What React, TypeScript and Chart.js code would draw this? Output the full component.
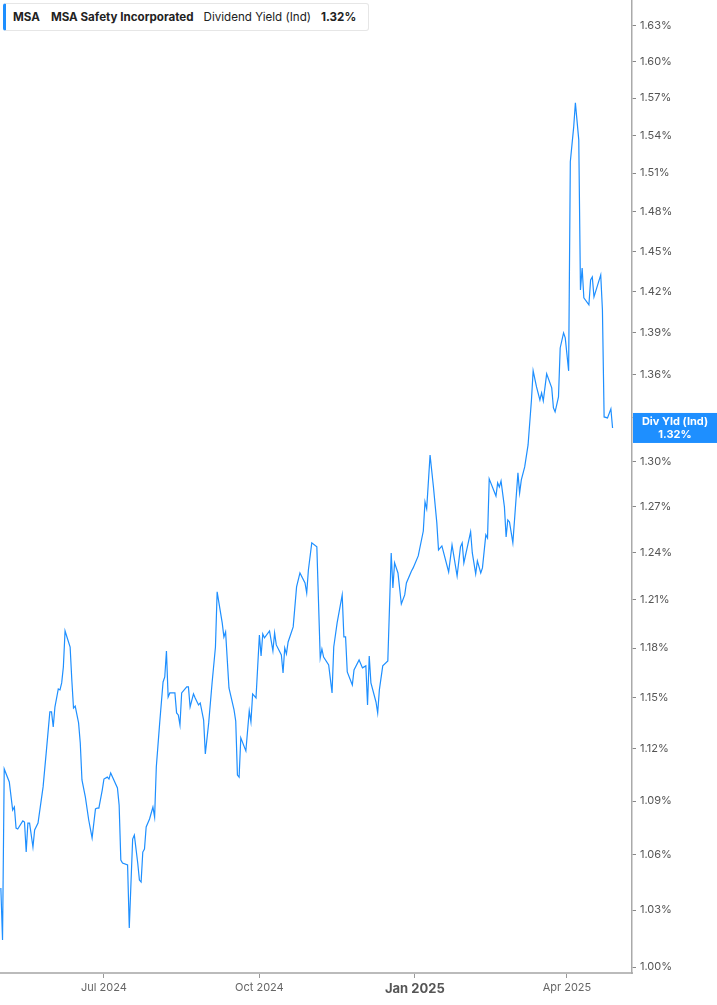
import { useEffect, useRef } from 'react'
import { Chart, registerables } from 'chart.js'

Chart.register(...registerables)

const dates = [
  '2024-05-01', '2024-05-02', '2024-05-03', '2024-05-06', '2024-05-08', '2024-05-09', '2024-05-10', '2024-05-11',
  '2024-05-14', '2024-05-15', '2024-05-16', '2024-05-17', '2024-05-18', '2024-05-20', '2024-05-21', '2024-05-23',
  '2024-05-26', '2024-05-28', '2024-05-30', '2024-05-31', '2024-06-01', '2024-06-02', '2024-06-04', '2024-06-05',
  '2024-06-06', '2024-06-07', '2024-06-08', '2024-06-11', '2024-06-12', '2024-06-13', '2024-06-14', '2024-06-16',
  '2024-06-17', '2024-06-18', '2024-06-20', '2024-06-22', '2024-06-24', '2024-06-26', '2024-06-27', '2024-06-28',
  '2024-06-30', '2024-07-01', '2024-07-03', '2024-07-04', '2024-07-05', '2024-07-09', '2024-07-10', '2024-07-11',
  '2024-07-12', '2024-07-15', '2024-07-16', '2024-07-18', '2024-07-19', '2024-07-21', '2024-07-22', '2024-07-23',
  '2024-07-24', '2024-07-25', '2024-07-26', '2024-07-28', '2024-07-30', '2024-07-31', '2024-08-01', '2024-08-03',
  '2024-08-05', '2024-08-06', '2024-08-07', '2024-08-08', '2024-08-09', '2024-08-12', '2024-08-13', '2024-08-14',
  '2024-08-15', '2024-08-16', '2024-08-19', '2024-08-20', '2024-08-21', '2024-08-23', '2024-08-24', '2024-08-26',
  '2024-08-27', '2024-08-29', '2024-08-30', '2024-09-01', '2024-09-03', '2024-09-05', '2024-09-06', '2024-09-09',
  '2024-09-10', '2024-09-11', '2024-09-13', '2024-09-16', '2024-09-17', '2024-09-18', '2024-09-19', '2024-09-20',
  '2024-09-23', '2024-09-25', '2024-09-26', '2024-09-27', '2024-09-29', '2024-10-01', '2024-10-02', '2024-10-03',
  '2024-10-04', '2024-10-07', '2024-10-09', '2024-10-10', '2024-10-11', '2024-10-14', '2024-10-15', '2024-10-16',
  '2024-10-17', '2024-10-18', '2024-10-21', '2024-10-23', '2024-10-25', '2024-10-28', '2024-10-29', '2024-10-30',
  '2024-11-01', '2024-11-04', '2024-11-06', '2024-11-07', '2024-11-08', '2024-11-11', '2024-11-13', '2024-11-14',
  '2024-11-16', '2024-11-19', '2024-11-20', '2024-11-21', '2024-11-22', '2024-11-25', '2024-11-26', '2024-11-29',
  '2024-12-01', '2024-12-03', '2024-12-04', '2024-12-05', '2024-12-06', '2024-12-09', '2024-12-10', '2024-12-11',
  '2024-12-13', '2024-12-16', '2024-12-18', '2024-12-19', '2024-12-20', '2024-12-22', '2024-12-24', '2024-12-26',
  '2024-12-27', '2024-12-30', '2024-12-31', '2025-01-03', '2025-01-06', '2025-01-07', '2025-01-08', '2025-01-10',
  '2025-01-12', '2025-01-14', '2025-01-15', '2025-01-17', '2025-01-21', '2025-01-23', '2025-01-26', '2025-01-28',
  '2025-01-29', '2025-01-30', '2025-02-03', '2025-02-04', '2025-02-06', '2025-02-07', '2025-02-09', '2025-02-10',
  '2025-02-12', '2025-02-13', '2025-02-14', '2025-02-18', '2025-02-19', '2025-02-20', '2025-02-21', '2025-02-23',
  '2025-02-24', '2025-02-25', '2025-02-26', '2025-02-28', '2025-03-03', '2025-03-04', '2025-03-05', '2025-03-07',
  '2025-03-09', '2025-03-11', '2025-03-12', '2025-03-14', '2025-03-16', '2025-03-17', '2025-03-18', '2025-03-20',
  '2025-03-23', '2025-03-24', '2025-03-25', '2025-03-27', '2025-03-28', '2025-03-30', '2025-03-31', '2025-04-02',
  '2025-04-03', '2025-04-05', '2025-04-06', '2025-04-08', '2025-04-09', '2025-04-10', '2025-04-11', '2025-04-14',
  '2025-04-15', '2025-04-16', '2025-04-17', '2025-04-21', '2025-04-22', '2025-04-23', '2025-04-25', '2025-04-27',
  '2025-04-28',
]

// dividend yield (ind), in percent
const yieldPct = [
  1.0419, 1.0141, 1.1083, 1.1008, 1.0849, 1.0866, 1.0748, 1.0743,
  1.0788, 1.0782, 1.0615, 1.0776, 1.0776, 1.0643, 1.0737, 1.0776,
  1.0980, 1.1193, 1.1416, 1.1416, 1.1327, 1.1445, 1.1553, 1.1547,
  1.1589, 1.1686, 1.1906, 1.1807, 1.1607, 1.1439, 1.1451, 1.1351,
  1.1233, 1.1020, 1.0923, 1.0793, 1.0693, 1.0855, 1.0860, 1.0860,
  1.0962, 1.1025, 1.1036, 1.1025, 1.1060, 1.0974, 1.0877, 1.0571,
  1.0555, 1.0544, 1.0205, 1.0687, 1.0709, 1.0555, 1.0462, 1.0451,
  1.0615, 1.0632, 1.0754, 1.0799, 1.0866, 1.0810, 1.1094, 1.1351,
  1.1595, 1.1625, 1.1783, 1.1505, 1.1529, 1.1529, 1.1410, 1.1398,
  1.1339, 1.1529, 1.1565, 1.1565, 1.1445, 1.1523, 1.1499, 1.1457,
  1.1469, 1.1368, 1.1169, 1.1351, 1.1589, 1.1807, 1.2150, 1.1956,
  1.1869, 1.1900, 1.1559, 1.1428, 1.1362, 1.1048, 1.1036, 1.1263,
  1.1187, 1.1422, 1.1357, 1.1523, 1.1499, 1.1881, 1.1752, 1.1887,
  1.1863, 1.1906, 1.1783, 1.1894, 1.1820, 1.1759, 1.1649, 1.1801,
  1.1765, 1.1838, 1.1931, 1.2181, 1.2270, 1.2206, 1.2143, 1.2289,
  1.2463, 1.2437, 1.1740, 1.1795, 1.1746, 1.1698, 1.1529, 1.1807,
  1.1956, 1.2131, 1.1869, 1.1869, 1.1655, 1.1577, 1.1667, 1.1728,
  1.1680, 1.1692, 1.1457, 1.1752, 1.1589, 1.1475, 1.1410, 1.1547,
  1.1692, 1.1722, 1.2398, 1.2175, 1.2334, 1.2270, 1.2074, 1.2131,
  1.2206, 1.2283, 1.2302, 1.2379, 1.2540, 1.2731, 1.2685, 1.3045,
  1.2830, 1.2593, 1.2417, 1.2443, 1.2276, 1.2450, 1.2251, 1.2437,
  1.2463, 1.2334, 1.2534, 1.2398, 1.2264, 1.2347, 1.2270, 1.2302,
  1.2515, 1.2495, 1.2884, 1.2770, 1.2857, 1.2830, 1.2870, 1.2698,
  1.2502, 1.2612, 1.2599, 1.2463, 1.2924, 1.2790, 1.2877, 1.2964,
  1.3113, 1.3423, 1.3627, 1.3514, 1.3423, 1.3472, 1.3416, 1.3606,
  1.3507, 1.3368, 1.3340, 1.3444, 1.3790, 1.3898, 1.3862, 1.3627,
  1.5189, 1.5467, 1.5661, 1.5363, 1.4212, 1.4375, 1.4153, 1.4102,
  1.4286, 1.4308, 1.4160, 1.4323, 1.4065, 1.3305, 1.3298, 1.3361,
  1.3229,
]

const xTickDates = ['2024-07-01', '2024-10-01', '2025-01-01', '2025-04-01']
const xTickLabels = ['Jul 2024', 'Oct 2024', 'Jan 2025', 'Apr 2025']
const yTicks = [1.0, 1.03, 1.06, 1.09, 1.12, 1.15, 1.18, 1.21, 1.24, 1.27, 1.3, 1.33, 1.36, 1.39, 1.42, 1.45, 1.48, 1.51, 1.54, 1.57, 1.6, 1.63]

const BLUE = '#1e8fff'
const FONT = 'Inter, Roboto, sans-serif'

const dayNum = (s: string) => {
  const [y, m, d] = s.split('-').map(Number)
  return Date.UTC(y, m - 1, d) / 86400000
}

const lastValue = yieldPct[yieldPct.length - 1]

const lastValueTag = {
  id: 'lastValueTag',
  afterDraw(chart: Chart) {
    const { ctx, chartArea, scales } = chart
    const y = scales.y.getPixelForValue(lastValue)
    const left = chartArea.right + 1
    const w = chart.width - left
    ctx.save()
    ctx.fillStyle = BLUE
    ctx.fillRect(left, y - 15, w, 30)
    ctx.fillStyle = '#fff'
    ctx.font = `bold 11px ${FONT}`
    ctx.textAlign = 'center'
    ctx.textBaseline = 'middle'
    ctx.fillText('Div Yld (Ind)', left + w / 2, y - 6)
    ctx.fillText(`${lastValue.toFixed(2)}%`, left + w / 2, y + 7)
    ctx.restore()
  },
}

export default function App() {
  const canvasRef = useRef<HTMLCanvasElement>(null)
  const chartRef = useRef<Chart | null>(null)

  useEffect(() => {
    document.body.style.margin = '0'
    if (!canvasRef.current) return
    chartRef.current?.destroy()

    const points = dates.map((d, i) => ({ x: dayNum(d), y: yieldPct[i] }))
    const xTickValues = xTickDates.map(dayNum)

    chartRef.current = new Chart(canvasRef.current, {
      type: 'line',
      data: {
        datasets: [
          {
            label: 'Dividend Yield (Ind)',
            data: points,
            borderColor: BLUE,
            borderWidth: 1.2,
            pointRadius: 0,
            tension: 0,
            fill: false,
          },
        ],
      },
      options: {
        animation: false,
        responsive: true,
        maintainAspectRatio: false,
        layout: { padding: 0 },
        plugins: { legend: { display: false }, tooltip: { enabled: false } },
        scales: {
          x: {
            type: 'linear',
            min: dayNum('2024-04-30') + 0.5,
            max: dayNum('2025-05-09') + 0.5,
            afterBuildTicks: s => { s.ticks = xTickValues.map(value => ({ value })) },
            afterFit: s => { s.height = 32; s.paddingLeft = 0; s.paddingRight = 0 },
            ticks: {
              autoSkip: false,
              maxRotation: 0,
              padding: 3,
              callback: (_v, i) => xTickLabels[i],
              color: ctx => (xTickLabels[ctx.index] === 'Jan 2025' ? '#555' : '#666'),
              font: ctx => (xTickLabels[ctx.index] === 'Jan 2025'
                ? { family: FONT, size: 13, weight: 'bold' }
                : { family: FONT, size: 11 }),
            },
            grid: { drawOnChartArea: false, tickLength: 5, color: '#999' },
            border: { color: '#bbb', width: 2 },
          },
          y: {
            type: 'logarithmic',
            position: 'right',
            min: 0.9969,
            max: 1.652,
            afterBuildTicks: s => { s.ticks = yTicks.map(value => ({ value })) },
            // no label overhang padding: the plot runs to the top edge
            afterFit: s => { s.width = 85; s.paddingTop = 0; s.paddingBottom = 0 },
            ticks: {
              autoSkip: false,
              padding: 4,
              color: '#555',
              font: { family: FONT, size: 11 },
              callback: v => `${Number(v).toFixed(2)}%`,
            },
            grid: { drawOnChartArea: false, tickLength: 4, color: '#888' },
            border: { color: '#aaa', width: 1.5 },
          },
        },
      },
      plugins: [lastValueTag],
    })

    return () => chartRef.current?.destroy()
  }, [])

  return (
    <div style={{ position: 'relative', width: 717, height: 1005, fontFamily: FONT }}>
      <canvas ref={canvasRef} />
      <div
        style={{
          position: 'absolute', left: 3, top: 3, width: 366, height: 28, boxSizing: 'border-box',
          background: '#fff', border: '1px solid #e6e6e6', borderLeft: `3px solid ${BLUE}`, borderRadius: 3,
          display: 'flex', alignItems: 'center', fontSize: 11.6, color: '#222', whiteSpace: 'nowrap',
        }}
      >
        <span style={{ fontWeight: 700, marginLeft: 7 }}>MSA</span>
        <span style={{ fontWeight: 700, marginLeft: 11 }}>MSA Safety Incorporated</span>
        <span style={{ marginLeft: 10 }}>Dividend Yield (Ind)</span>
        <span style={{ fontWeight: 700, marginLeft: 10 }}>{lastValue.toFixed(2)}%</span>
      </div>
    </div>
  )
}
